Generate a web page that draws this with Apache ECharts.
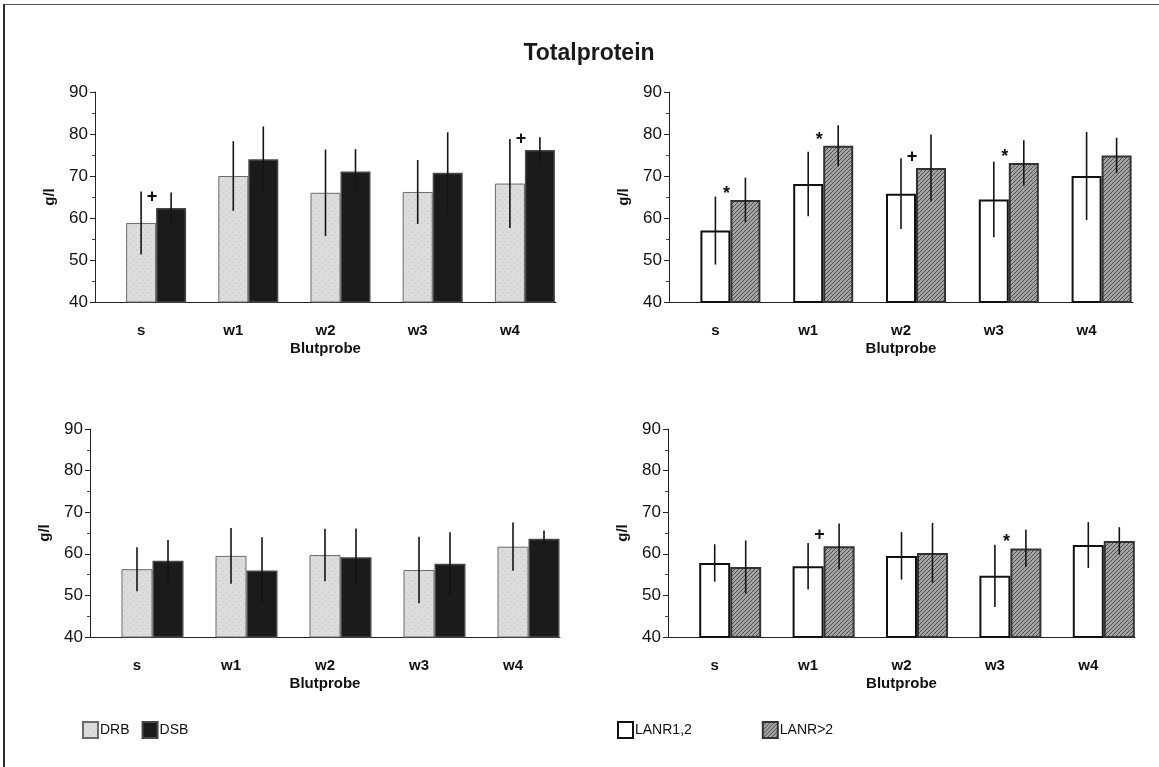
<!DOCTYPE html>
<html>
<head>
<meta charset="utf-8">
<script src="https://cdn.jsdelivr.net/npm/echarts@6/dist/echarts.min.js"></script>
<style>
  html, body { margin: 0; padding: 0; background: #fff; }
  #chart { width: 1159px; height: 767px; position: relative; }
  #frame { position: absolute; left: 3px; top: 4px; right: 0; bottom: 0;
           border-left: 2px solid #2a2a2a; border-top: 1px solid #555; pointer-events: none; }
</style>
</head>
<body>
<div id="chart"></div>
<div id="frame"></div>
<script>
// ---- data ----
const categories = ['s', 'w1', 'w2', 'w3', 'w4'];
const yTicks = [40, 50, 60, 70, 80, 90];

// top-left panel: DRB vs DSB
const drbTop      = [58.8, 70.0, 66.0, 66.2, 68.2];
const drbTopSD    = [7.5, 8.3, 10.3, 7.6, 10.6];
const dsbTop      = [62.4, 74.0, 71.1, 70.8, 76.2];
const dsbTopSD    = [3.7, 7.8, 5.3, 9.6, 3.0];
const sigTopLeft  = ['+', '', '', '', '+'];

// top-right panel: LANR1,2 vs LANR>2
const lanr12Top   = [57.0, 68.1, 65.8, 64.4, 70.0];
const lanr12TopSD = [8.1, 7.7, 8.4, 9.0, 10.5];
const lanr2Top    = [64.3, 77.2, 71.9, 73.1, 74.9];
const lanr2TopSD  = [5.3, 4.9, 8.0, 5.4, 4.2];
const sigTopRight = ['*', '*', '+', '*', ''];

// bottom-left panel: DRB vs DSB
const drbBottom     = [56.3, 59.5, 59.7, 56.1, 61.7];
const drbBottomSD   = [5.3, 6.7, 6.3, 8.0, 5.8];
const dsbBottom     = [58.3, 56.0, 59.2, 57.6, 63.6];
const dsbBottomSD   = [5.0, 8.0, 6.9, 7.6, 2.0];
const sigBottomLeft = ['', '', '', '', ''];

// bottom-right panel: LANR1,2 vs LANR>2
const lanr12Bottom   = [57.8, 57.0, 59.5, 54.7, 62.1];
const lanr12BottomSD = [4.5, 5.6, 5.7, 7.5, 5.5];
const lanr2Bottom    = [56.8, 61.8, 60.2, 61.3, 63.1];
const lanr2BottomSD  = [6.4, 5.5, 7.2, 4.5, 3.3];
const sigBottomRight = ['', '+', '', '*', ''];

// ---- patterns ----
function hatchCanvas() {
  const c = document.createElement('canvas');
  c.width = 4; c.height = 4;
  const g = c.getContext('2d');
  g.fillStyle = '#a4a4a4'; g.fillRect(0, 0, 4, 4);
  g.fillStyle = '#4e4e4e';
  for (let k = 0; k < 4; k++) { g.fillRect(k, 3 - k, 1, 1); }
  return c;
}
function dotCanvas() {
  const c = document.createElement('canvas');
  c.width = 6; c.height = 6;
  const g = c.getContext('2d');
  g.fillStyle = '#dcdcdc'; g.fillRect(0, 0, 6, 6);
  g.fillStyle = '#c4c4c4'; g.fillRect(1, 1, 1, 1); g.fillRect(4, 4, 1, 1);
  return c;
}
const hatchPattern = { image: hatchCanvas(), repeat: 'repeat' };
const dotPattern = { image: dotCanvas(), repeat: 'repeat' };

const styles = {
  DRB: { color: dotPattern, borderColor: '#6a6a6a', borderWidth: 1 },
  DSB: { color: '#1b1b1b', borderColor: '#474747', borderWidth: 1.5 },
  'LANR1,2': { color: '#ffffff', borderColor: '#111111', borderWidth: 2 },
  'LANR>2': { color: hatchPattern, borderColor: '#333333', borderWidth: 2 }
};

const FONT = '"Liberation Sans", Arial, sans-serif';

const panels = [
  { grid: { left: 95, top: 92, width: 461, height: 210 }, bw: 30,
    a: ['DRB', drbTop, drbTopSD], b: ['DSB', dsbTop, dsbTopSD], sig: sigTopLeft },
  { grid: { left: 669, top: 92, width: 464, height: 210 }, bw: 30,
    a: ['LANR1,2', lanr12Top, lanr12TopSD], b: ['LANR>2', lanr2Top, lanr2TopSD], sig: sigTopRight },
  { grid: { left: 90, top: 429, width: 470, height: 208 }, bw: 31,
    a: ['DRB', drbBottom, drbBottomSD], b: ['DSB', dsbBottom, dsbBottomSD], sig: sigBottomLeft },
  { grid: { left: 668, top: 429, width: 467, height: 208 }, bw: 31,
    a: ['LANR1,2', lanr12Bottom, lanr12BottomSD], b: ['LANR>2', lanr2Bottom, lanr2BottomSD], sig: sigBottomRight }
];

function errRender(offset) {
  return function (params, api) {
    const i = api.value(0), m = api.value(1), s = api.value(2);
    const t = api.coord([i, m + s]);
    const b = api.coord([i, m - s]);
    const x = t[0] + offset;
    return {
      type: 'line',
      shape: { x1: x, y1: t[1], x2: x, y2: b[1] },
      style: { stroke: '#141414', lineWidth: 1.6 }
    };
  };
}

const grids = [], xAxes = [], yAxes = [], series = [];
panels.forEach((p, gi) => {
  grids.push(p.grid);
  xAxes.push({
    type: 'category', gridIndex: gi, data: categories,
    axisLine: { lineStyle: { color: '#222', width: 1 } },
    axisTick: { show: false },
    axisLabel: { fontFamily: FONT, fontSize: 15, fontWeight: 'bold', color: '#111', margin: 21 },
    name: 'Blutprobe', nameLocation: 'middle', nameGap: 39,
    nameTextStyle: { fontFamily: FONT, fontSize: 15, fontWeight: 'bold', color: '#111' }
  });
  yAxes.push({
    type: 'value', gridIndex: gi, min: yTicks[0], max: yTicks[yTicks.length - 1], interval: 10,
    axisLine: { show: true, lineStyle: { color: '#222', width: 1 } },
    axisTick: { show: true, length: 5, lineStyle: { color: '#222' } },
    minorTick: { show: true, splitNumber: 2, length: 3, lineStyle: { color: '#444' } },
    splitLine: { show: false },
    axisLabel: { fontFamily: FONT, fontSize: 17, color: '#111', margin: 7 },
    name: 'g/l', nameLocation: 'middle', nameGap: 38, nameRotate: 90,
    nameTextStyle: { fontFamily: FONT, fontSize: 15, fontWeight: 'bold', color: '#111' }
  });
  // layout spacer (no data): reserves the slot left of the first bar, as in the original
  series.push({ type: 'bar', name: '', data: [], xAxisIndex: gi, yAxisIndex: gi,
    barWidth: p.bw, barGap: '0%', silent: true });
  series.push({
    type: 'bar', name: p.a[0], data: p.a[1], xAxisIndex: gi, yAxisIndex: gi,
    barWidth: p.bw, barGap: '0%', itemStyle: styles[p.a[0]], z: 2
  });
  series.push({
    type: 'bar', name: p.b[0], xAxisIndex: gi, yAxisIndex: gi,
    barWidth: p.bw, barGap: '0%', itemStyle: styles[p.b[0]], z: 2,
    data: p.b[1].map((v, i) => ({
      value: v,
      label: {
        show: p.sig[i] !== '', formatter: p.sig[i],
        position: [-4, p.sig[i] === '*' ? -6 : -11],
        align: 'center', verticalAlign: 'middle',
        fontFamily: FONT, fontSize: 18, fontWeight: 'bold', color: '#111'
      }
    }))
  });
  series.push({
    type: 'custom', name: p.a[0] + ' SD', xAxisIndex: gi, yAxisIndex: gi, z: 5, silent: true,
    renderItem: errRender(0),
    data: p.a[1].map((v, i) => [i, v, p.a[2][i]])
  });
  series.push({
    type: 'custom', name: p.b[0] + ' SD', xAxisIndex: gi, yAxisIndex: gi, z: 5, silent: true,
    renderItem: errRender(p.bw),
    data: p.b[1].map((v, i) => [i, v, p.b[2][i]])
  });
});

const chart = echarts.init(document.getElementById('chart'), null, { renderer: 'canvas' });
chart.setOption({
  backgroundColor: '#ffffff',
  animation: false,
  title: {
    text: 'Totalprotein', left: 584, top: 37, textAlign: 'center',
    textStyle: { fontFamily: '"Liberation Sans Narrow", "Liberation Sans", Arial, sans-serif',
                 fontSize: 23, fontWeight: 'bold', color: '#1a1a1a' }
  },
  legend: [
    { data: ['DRB', 'DSB'], left: 82, top: 721, padding: 0, itemWidth: 15, itemHeight: 16, itemGap: 12,
      icon: 'rect', textStyle: { fontFamily: FONT, fontSize: 14, color: '#111', padding: [0, 0, 0, -3] } },
    { data: ['LANR1,2', 'LANR>2'], left: 617, top: 721, padding: 0, itemWidth: 15, itemHeight: 16, itemGap: 70,
      icon: 'rect', textStyle: { fontFamily: FONT, fontSize: 14, color: '#111', padding: [0, 0, 0, -3] } }
  ],
  grid: grids,
  xAxis: xAxes,
  yAxis: yAxes,
  series: series
});
</script>
</body>
</html>
